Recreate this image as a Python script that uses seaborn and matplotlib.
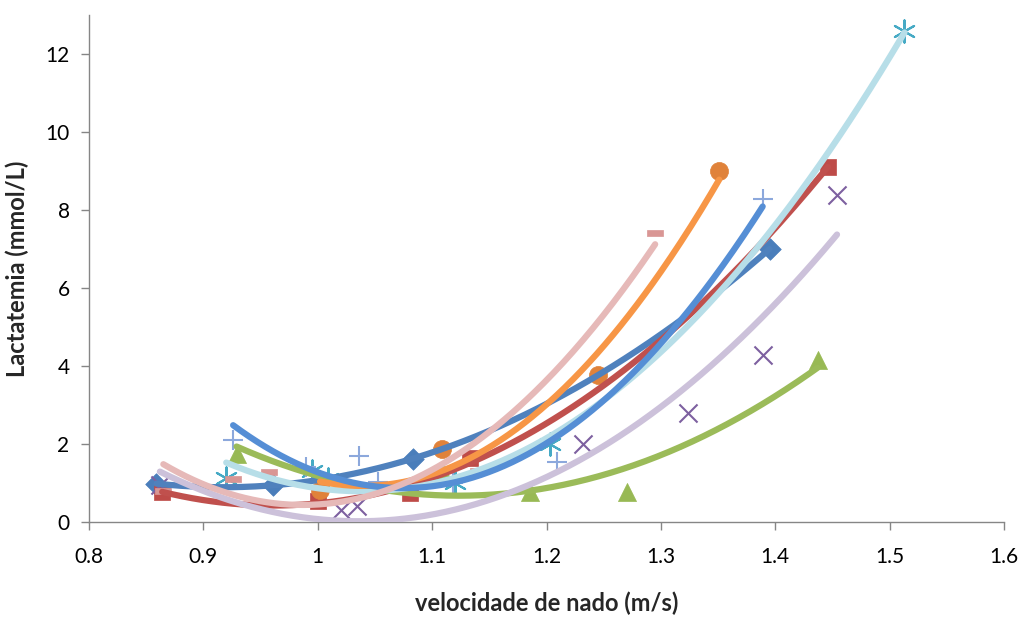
import numpy as np
import pandas as pd
import matplotlib
matplotlib.use("Agg")
import matplotlib.pyplot as plt
import seaborn as sns

# ---- data ----
s1_x = [0.859, 0.961, 1.083, 1.395]
s1_y = [0.98, 0.95, 1.62, 7.0]
s2_x = [0.864, 1.000, 1.081, 1.133, 1.446]
s2_y = [0.77, 0.55, 0.75, 1.65, 9.1]
s3_x = [0.929, 1.109, 1.186, 1.270, 1.437]
s3_y = [1.75, 1.30, 0.78, 0.78, 4.16]
s4_x = [0.862, 1.020, 1.034, 1.232, 1.324, 1.389, 1.454]
s4_y = [0.95, 0.30, 0.40, 2.00, 2.80, 4.29, 8.38]
s5_x = [0.920, 0.995, 1.009, 1.120, 1.203, 1.513]
s5_y = [1.13, 1.30, 1.10, 1.00, 2.00, 12.6]
s6_x = [1.002, 1.109, 1.245, 1.351]
s6_y = [0.82, 1.88, 3.78, 9.0]
s7_x = [0.926, 0.990, 1.036, 1.053, 1.118, 1.209, 1.389]
s7_y = [2.10, 1.40, 1.68, 1.03, 1.00, 1.55, 8.28]
s8_x = [0.865, 0.926, 0.957, 1.140, 1.295]
s8_y = [0.80, 1.10, 1.29, 1.30, 7.40]

series_x = [s1_x, s2_x, s3_x, s4_x, s5_x, s6_x, s7_x, s8_x]
series_y = [s1_y, s2_y, s3_y, s4_y, s5_y, s6_y, s7_y, s8_y]

x_ticks = [0.8, 0.9, 1.0, 1.1, 1.2, 1.3, 1.4, 1.5, 1.6]
x_tick_labels = ["0.8", "0.9", "1", "1.1", "1.2", "1.3", "1.4", "1.5", "1.6"]
y_ticks = [0, 2, 4, 6, 8, 10, 12]

# ---- styles ----
dash_marker = [(-1, -0.45), (1, -0.45), (1, 0.45), (-1, 0.45), (-1, -0.45)]
marker_styles = ["D", "s", "^", "x", (6, 2, 0), "o", "+", dash_marker]
marker_colors = ["#4A7EBB", "#BE4B48", "#98B954", "#7D60A0", "#46AAC5", "#E0823A", "#8CA8DC", "#D99694"]
marker_sizes = [11, 12, 13, 13, 16, 13, 15, 11]
line_markers = [False, False, False, True, True, False, True, False]
trend_colors = ["#4F81BD", "#C0504D", "#9BBB59", "#CCC1DA", "#B7DEE8", "#F79646", "#558ED5", "#E6B9B8"]

sns.set_theme(style="white")
plt.rcParams["font.family"] = ["Lato", "DejaVu Sans"]

fig = plt.figure(figsize=(10.22, 6.19), dpi=100)
ax = fig.add_axes([89 / 1022, 1 - 522 / 619, (1004 - 89) / 1022, (522 - 15) / 619])

rows = []
for i, (xs, ys) in enumerate(zip(series_x, series_y)):
    for xv, yv in zip(xs, ys):
        rows.append({"serie": f"S{i+1}", "v": xv, "lac": yv})
df = pd.DataFrame(rows)

for i in range(8):
    sub = df[df.serie == f"S{i+1}"]
    m = marker_styles[i]
    kw = dict(s=marker_sizes[i] ** 2, color=marker_colors[i], marker=m, zorder=2, legend=False)
    if line_markers[i]:
        kw["linewidth"] = 1.5
    else:
        kw["edgecolor"] = marker_colors[i]
        kw["linewidth"] = 0.5
    sns.scatterplot(data=sub, x="v", y="lac", ax=ax, **kw)

for i in range(8):
    xs = np.array(series_x[i])
    ys = np.array(series_y[i])
    coef = np.polyfit(xs, ys, 2)
    xx = np.linspace(xs.min(), xs.max(), 200)
    sns.lineplot(x=xx, y=np.polyval(coef, xx), ax=ax, color=trend_colors[i],
                 linewidth=4.5, solid_capstyle="round", zorder=3 + i * 0.01, estimator=None, sort=False)

ax.set_xlim(0.8, 1.6)
ax.set_ylim(0, 13)
ax.set_xticks(x_ticks)
ax.set_xticklabels(x_tick_labels)
ax.set_yticks(y_ticks)
ax.tick_params(axis="both", labelsize=15, colors="#868686", labelcolor="black",
               direction="out", length=6, width=1, bottom=True, left=True)
ax.tick_params(axis="x", pad=12)
ax.tick_params(axis="y", pad=8)
for side in ["top", "right"]:
    ax.spines[side].set_visible(False)
for side in ["left", "bottom"]:
    ax.spines[side].set_color("#868686")
    ax.spines[side].set_linewidth(1)
ax.set_xlabel("velocidade de nado (m/s)", fontsize=17, fontweight="bold", labelpad=18)
ax.set_ylabel("Lactatemia (mmol/L)", fontsize=17, fontweight="bold", labelpad=12)
ax.grid(False)

fig.savefig("out.png", dpi=100)
